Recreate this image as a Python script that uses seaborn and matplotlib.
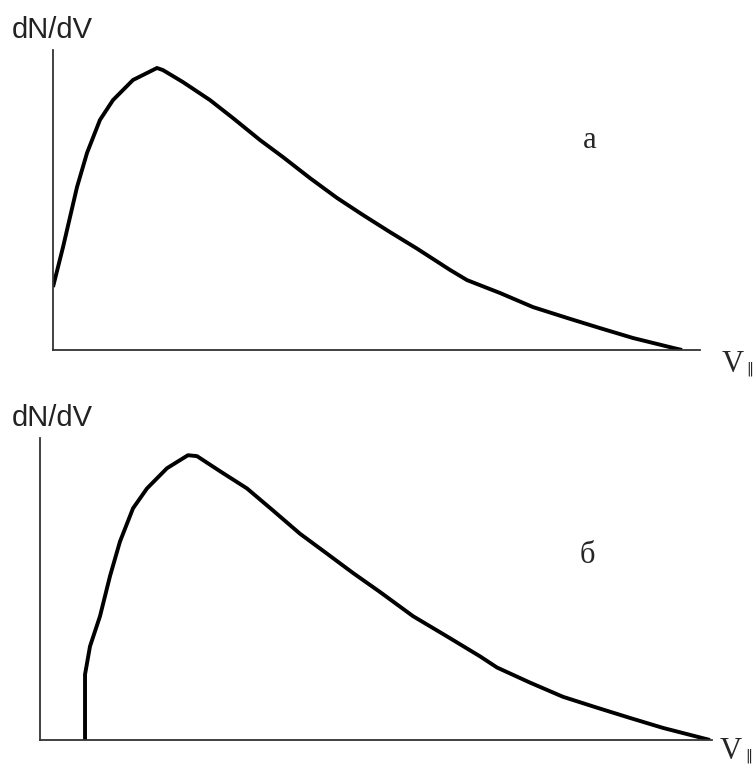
import numpy as np
import pandas as pd
import seaborn as sns
import matplotlib.pyplot as plt

sns.set_style("white")

# panel "а": distribution starting from a non-zero value at V = 0
v_a = [0.0, 0.155, 0.371, 0.526, 0.726, 0.927, 1.236, 1.607, 1.700, 2.009, 2.427,
       2.782, 3.199, 3.555, 3.972, 4.389, 4.791, 5.209, 5.626, 6.136, 6.399,
       6.909, 7.419, 7.944, 8.454, 8.964, 9.583, 9.722]
f_a = [0.21, 0.343, 0.543, 0.657, 0.767, 0.833, 0.90, 0.94, 0.933, 0.893, 0.833,
       0.773, 0.70, 0.643, 0.573, 0.507, 0.45, 0.393, 0.338, 0.267, 0.233,
       0.19, 0.143, 0.107, 0.073, 0.04, 0.007, 0.0]

# panel "б": distribution cut off below a threshold velocity
v_b = [0.670, 0.670, 0.744, 0.893, 1.042, 1.190, 1.384, 1.592, 1.890, 2.202, 2.336,
       2.679, 3.080, 3.467, 3.869, 4.271, 4.658, 5.060, 5.551, 6.057, 6.548,
       6.801, 7.292, 7.783, 8.289, 8.780, 9.271, 9.970]
f_b = [0.0, 0.217, 0.31, 0.41, 0.543, 0.657, 0.767, 0.833, 0.90, 0.943, 0.94,
       0.89, 0.833, 0.76, 0.683, 0.617, 0.553, 0.49, 0.41, 0.343, 0.277,
       0.24, 0.19, 0.143, 0.107, 0.073, 0.04, 0.0]

panels = [
    {"v": v_a, "f": f_a, "tag": "а", "rect": [53 / 754, 417 / 767, 647 / 754, 300 / 767],
     "tag_xy": (0.83, 0.70), "ylab_x": -0.063, "vx": 1.034, "vy": -0.072},
    {"v": v_b, "f": f_b, "tag": "б", "rect": [40 / 754, 27 / 767, 672 / 754, 302 / 767],
     "tag_xy": (0.815, 0.61), "ylab_x": -0.042, "vx": 1.012, "vy": -0.062},
]

fig = plt.figure(figsize=(7.54, 7.67), dpi=100)

for p in panels:
    ax = fig.add_axes(p["rect"])
    df = pd.DataFrame({"V": p["v"], "f": p["f"]})
    sns.lineplot(data=df, x="V", y="f", ax=ax, color="black", linewidth=2.8,
                 estimator=None, sort=False, solid_capstyle="butt")
    ax.set_xlim(0, 10)
    ax.set_ylim(0, 1)
    ax.set_xticks([])
    ax.set_yticks([])
    ax.set_xlabel("")
    ax.set_ylabel("")
    sns.despine(ax=ax)
    for side in ["left", "bottom"]:
        ax.spines[side].set_color("#333333")
        ax.spines[side].set_linewidth(1.3)
    ax.patch.set_alpha(0)

    ax.text(p["ylab_x"], 1.02, "dN/dV", transform=ax.transAxes, ha="left", va="bottom",
            fontsize=21, family="Liberation Sans", color="#222222")
    ax.text(p["tag_xy"][0], p["tag_xy"][1], p["tag"], transform=ax.transAxes,
            ha="center", va="center", fontsize=22, family="Liberation Serif")
    ax.text(p["vx"], p["vy"], "V", transform=ax.transAxes, ha="left", va="baseline",
            fontsize=22, family="Liberation Serif")
    ax.text(p["vx"] + 0.038, p["vy"] - 0.004, "\u2016", transform=ax.transAxes, ha="left",
            va="baseline", fontsize=10, family="DejaVu Sans")

fig.savefig("out.png", dpi=100, facecolor="white")
